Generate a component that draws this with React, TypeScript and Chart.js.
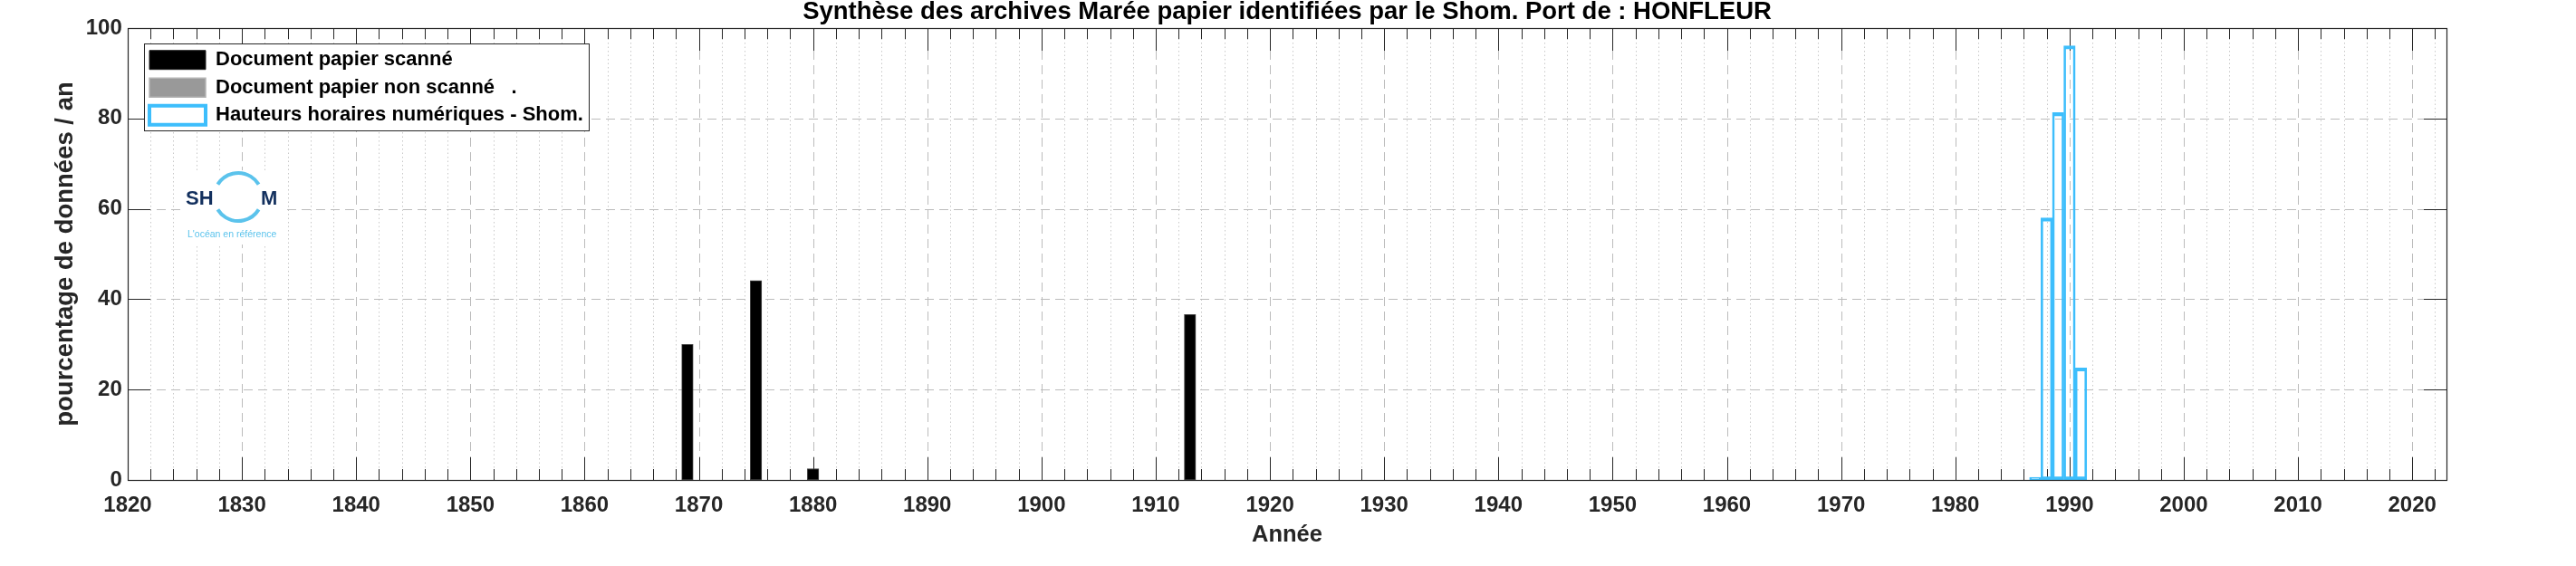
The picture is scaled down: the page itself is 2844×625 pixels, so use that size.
import React, { useEffect, useRef } from 'react';
import { Chart, registerables } from 'chart.js';

Chart.register(...registerables);

// ---------- text ----------
const TITLE = 'Synthèse des archives Marée papier identifiées par le Shom. Port de : HONFLEUR';
const X_LABEL = 'Année';
const Y_LABEL = 'pourcentage de données / an';
const SERIES_NAMES = [
  'Document papier scanné',
  'Document papier non scanné   .',
  'Hauteurs horaires numériques - Shom.',
];
const LOGO_TEXT = ['SH', 'M'];
const LOGO_TAGLINE = "L'océan en référence";

// ---------- data ----------
const SCANNED_YEARS = [1869, 1875, 1880, 1913];
const SCANNED_VALUES = [30.0, 44.1, 2.5, 36.6];
const UNSCANNED_YEARS: number[] = [];
const UNSCANNED_VALUES: number[] = [];
const DIGITAL_YEARS = [1987, 1988, 1989, 1990, 1991];
const DIGITAL_VALUES = [0.6, 58.0, 81.3, 96.1, 24.8];

// ---------- axes ----------
const X_MIN = 1820;
const X_MAX = 2023;
const X_TICKS = [1820, 1830, 1840, 1850, 1860, 1870, 1880, 1890, 1900, 1910, 1920, 1930, 1940, 1950, 1960, 1970, 1980, 1990, 2000, 2010, 2020];
const X_MINOR_STEP = 2;
const Y_MIN = 0;
const Y_MAX = 100;
const Y_TICKS = [0, 20, 40, 60, 80, 100];

// ---------- style ----------
const W = 2844;
const H = 625;
const FONT = '"Liberation Sans", Arial, Helvetica, sans-serif';
const AXIS_COLOR = '#262626';
const BLUE = '#3dbefc';
const LEGEND_FILL = ['#000000', '#999999', '#ffffff'];
const LEGEND_STROKE = ['#222222', '#b4b4b4', BLUE];
const LEGEND_LW = [1, 1.5, 4];
const LEG_FONT = 22;
const LEG_BOX_W = 62;
const LEG_BOX_H = 21;
const LEG_PAD = 8.5;

const toXY = (xs: number[], ys: number[]) => xs.map((x, i) => ({ x, y: ys[i] }));

const line = (ctx: CanvasRenderingContext2D, x1: number, y1: number, x2: number, y2: number) => {
  ctx.beginPath();
  ctx.moveTo(x1, y1);
  ctx.lineTo(x2, y2);
  ctx.stroke();
};

const matlabAxes = {
  id: 'matlabAxes',
  beforeDraw(chart: any) {
    const { ctx, chartArea: ca } = chart;
    const xs = chart.scales.x;
    const ys = chart.scales.y;
    const L = Math.round(ca.left);
    const R = Math.round(ca.right);
    const T = Math.round(ca.top);
    const B = Math.round(ca.bottom);
    ctx.save();
    ctx.fillStyle = '#ffffff';
    ctx.fillRect(0, 0, chart.width, chart.height);
    ctx.lineWidth = 1;

    // minor grid (dotted)
    const minorX: number[] = [];
    for (let v = X_MIN + X_MINOR_STEP; v < X_MAX; v += X_MINOR_STEP) {
      if (!X_TICKS.includes(v)) minorX.push(v);
    }
    ctx.strokeStyle = '#c9c9c9';
    ctx.setLineDash([1.5, 3]);
    minorX.forEach((v) => {
      const px = Math.round(xs.getPixelForValue(v)) + 0.5;
      line(ctx, px, B, px, T);
    });

    // major grid (dashed)
    ctx.strokeStyle = '#bcbcbc';
    ctx.setLineDash([10, 6]);
    X_TICKS.forEach((v) => {
      if (v <= X_MIN || v >= X_MAX) return;
      const px = Math.round(xs.getPixelForValue(v)) + 0.5;
      line(ctx, px, B, px, T);
    });
    Y_TICKS.forEach((v) => {
      if (v <= Y_MIN || v >= Y_MAX) return;
      const py = Math.round(ys.getPixelForValue(v)) + 0.5;
      line(ctx, L, py, R, py);
    });

    // inward ticks
    ctx.setLineDash([]);
    ctx.strokeStyle = AXIS_COLOR;
    const major = 25;
    const minor = 12;
    X_TICKS.forEach((v) => {
      if (v <= X_MIN || v >= X_MAX) return;
      const px = Math.round(xs.getPixelForValue(v)) + 0.5;
      line(ctx, px, B, px, B - major);
      line(ctx, px, T, px, T + major);
    });
    minorX.forEach((v) => {
      const px = Math.round(xs.getPixelForValue(v)) + 0.5;
      line(ctx, px, B, px, B - minor);
      line(ctx, px, T, px, T + minor);
    });
    Y_TICKS.forEach((v) => {
      if (v <= Y_MIN || v >= Y_MAX) return;
      const py = Math.round(ys.getPixelForValue(v)) + 0.5;
      line(ctx, L, py, L + major, py);
      line(ctx, R, py, R - major, py);
    });

    // logo
    ctx.fillStyle = '#ffffff';
    ctx.fillRect(200, 188, 113, 82);
    ctx.strokeStyle = '#5bc3ec';
    ctx.lineWidth = 4;
    const cx = 263;
    const cy = 217.5;
    const r = 26.5;
    ctx.beginPath();
    ctx.arc(cx, cy, r, Math.PI + 0.55, 2 * Math.PI - 0.55);
    ctx.stroke();
    ctx.beginPath();
    ctx.arc(cx, cy, r, 0.55, Math.PI - 0.55);
    ctx.stroke();
    ctx.fillStyle = '#13305e';
    ctx.font = `bold 22px ${FONT}`;
    ctx.textBaseline = 'alphabetic';
    ctx.textAlign = 'left';
    ctx.fillText(LOGO_TEXT[0], 205, 225.5);
    ctx.fillText(LOGO_TEXT[1], 288, 225.5);
    ctx.fillStyle = '#5bc3ec';
    ctx.font = `10.5px ${FONT}`;
    ctx.textBaseline = 'middle';
    ctx.fillText(LOGO_TAGLINE, 207, 259);

    // legend placement + frame
    const lg = chart.legend;
    if (lg) {
      lg.left = 156.5;
      lg.top = 46.7;
      lg.right = lg.left + lg.width;
      lg.bottom = ca.bottom;
      const boxLeft = lg.left + LEG_PAD;
      const firstTop = lg.top + LEG_PAD;
      ctx.font = `bold ${LEG_FONT}px ${FONT}`;
      let maxW = 0;
      SERIES_NAMES.forEach((s) => {
        maxW = Math.max(maxW, ctx.measureText(s).width);
      });
      const step = Math.max(LEG_FONT, LEG_BOX_H) + LEG_PAD;
      const x0 = Math.round(boxLeft - 6) + 0.5;
      const y0 = Math.round(firstTop - 7.2) + 0.5;
      const x1 = Math.round(boxLeft + LEG_BOX_W + LEG_FONT / 2 + maxW + 6) + 0.5;
      const y1 = Math.round(firstTop + 2 * step + LEG_BOX_H + 7) + 0.5;
      ctx.fillStyle = '#ffffff';
      ctx.fillRect(x0, y0, x1 - x0, y1 - y0);
      ctx.strokeStyle = AXIS_COLOR;
      ctx.lineWidth = 1;
      ctx.strokeRect(x0, y0, x1 - x0, y1 - y0);
    }
    ctx.restore();
  },
  afterDraw(chart: any) {
    const { ctx, chartArea: ca } = chart;
    const L = Math.round(ca.left) + 0.5;
    const R = Math.round(ca.right) + 0.5;
    const T = Math.round(ca.top) + 0.5;
    const B = Math.round(ca.bottom) + 0.5;
    ctx.save();
    ctx.strokeStyle = AXIS_COLOR;
    ctx.lineWidth = 1.2;
    ctx.strokeRect(L, T, R - L, B - T);
    ctx.restore();
  },
};

export default function App() {
  const ref = useRef<HTMLCanvasElement>(null);

  useEffect(() => {
    const canvas = ref.current;
    if (!canvas) return;
    const barCommon = {
      grouped: false,
      barPercentage: 1,
      categoryPercentage: 1,
      borderSkipped: false,
    };
    const chart = new Chart(canvas, {
      type: 'bar',
      data: {
        datasets: [
          {
            ...barCommon,
            label: SERIES_NAMES[0],
            data: toXY(SCANNED_YEARS, SCANNED_VALUES),
            backgroundColor: '#000000',
            borderColor: '#444444',
            borderWidth: 1,
          },
          {
            ...barCommon,
            label: SERIES_NAMES[1],
            data: toXY(UNSCANNED_YEARS, UNSCANNED_VALUES),
            backgroundColor: '#999999',
            borderColor: '#b4b4b4',
            borderWidth: 1,
          },
          {
            ...barCommon,
            label: SERIES_NAMES[2],
            data: toXY(DIGITAL_YEARS, DIGITAL_VALUES),
            backgroundColor: 'rgba(255,255,255,0)',
            borderColor: BLUE,
            borderWidth: { top: 3.5, bottom: 3.5, left: 2, right: 2 },
          },
        ] as any,
      },
      options: {
        responsive: false,
        animation: false,
        devicePixelRatio: 1,
        events: [],
        layout: { padding: { left: 0, top: 0, right: 143, bottom: 0 } },
        scales: {
          x: {
            type: 'linear',
            min: X_MIN,
            max: X_MAX,
            offset: false,
            grid: { display: false, drawTicks: false },
            border: { display: false },
            ticks: {
              autoSkip: false,
              includeBounds: false,
              stepSize: 10,
              maxRotation: 0,
              padding: 13.5,
              color: AXIS_COLOR,
              font: { family: FONT, size: 24, weight: 'bold' },
              callback: (v: any) => String(v),
            },
            afterBuildTicks: (s: any) => {
              s.ticks = X_TICKS.map((v) => ({ value: v }));
            },
            afterFit: (s: any) => {
              s.height = 95;
            },
            title: {
              display: true,
              text: X_LABEL,
              color: AXIS_COLOR,
              font: { family: FONT, size: 25.5, weight: 'bold', lineHeight: 1.2 },
              padding: { top: 0, bottom: 18.7 },
            },
          },
          y: {
            type: 'linear',
            min: Y_MIN,
            max: Y_MAX,
            grid: { display: false, drawTicks: false },
            border: { display: false },
            ticks: {
              stepSize: 20,
              padding: 6.2,
              color: AXIS_COLOR,
              font: { family: FONT, size: 24, weight: 'bold' },
              callback: (v: any) => String(v),
            },
            afterBuildTicks: (s: any) => {
              s.ticks = Y_TICKS.map((v) => ({ value: v }));
            },
            title: {
              display: true,
              text: Y_LABEL,
              color: AXIS_COLOR,
              font: { family: FONT, size: 27.5, weight: 'bold', lineHeight: 1.2 },
              padding: { top: 55.57, bottom: 0 },
            },
          },
        },
        plugins: {
          title: {
            display: true,
            fullSize: false,
            text: TITLE,
            color: '#000000',
            font: { family: FONT, size: 27.5, weight: 'bold', lineHeight: 1 },
            padding: { top: 0, bottom: 3.5 },
          },
          legend: {
            display: true,
            position: 'chartArea',
            align: 'start',
            fullSize: false,
            labels: {
              boxWidth: LEG_BOX_W,
              boxHeight: LEG_BOX_H,
              padding: LEG_PAD,
              color: '#000000',
              font: { family: FONT, size: LEG_FONT, weight: 'bold' },
              generateLabels: (c: any) =>
                c.data.datasets.map((ds: any, i: number) => ({
                  text: ds.label,
                  fillStyle: LEGEND_FILL[i],
                  strokeStyle: LEGEND_STROKE[i],
                  lineWidth: LEGEND_LW[i],
                  hidden: false,
                  datasetIndex: i,
                  fontColor: '#000000',
                })),
            },
          },
          tooltip: { enabled: false },
        },
      } as any,
      plugins: [matlabAxes],
    });
    return () => chart.destroy();
  }, []);

  return (
    <div style={{ position: 'fixed', left: 0, top: 0, width: W, height: H, background: '#ffffff' }}>
      <canvas ref={ref} width={W} height={H} style={{ display: 'block', width: W, height: H }} />
    </div>
  );
}
